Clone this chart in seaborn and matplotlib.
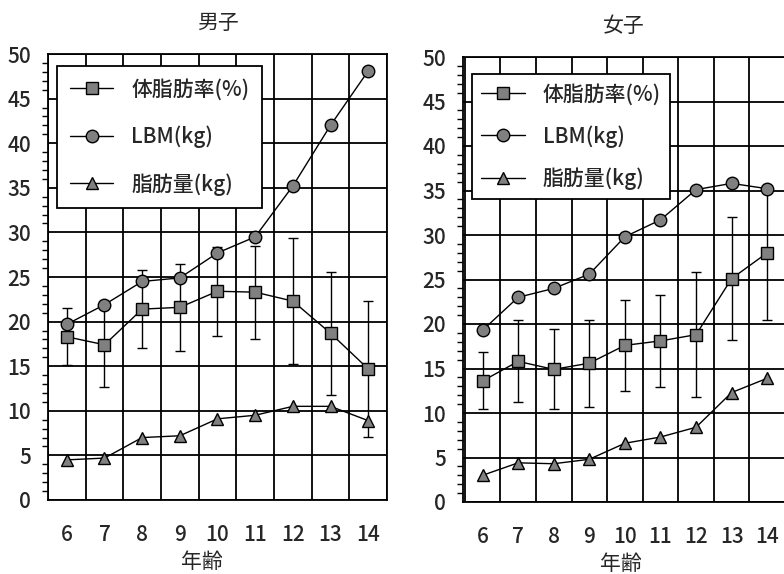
import numpy as np
import pandas as pd
import matplotlib
matplotlib.use("Agg")
import matplotlib.pyplot as plt
import seaborn as sns
from matplotlib.lines import Line2D
from matplotlib.ticker import MultipleLocator

# ---- data -------------------------------------------------------------
ages = [6, 7, 8, 9, 10, 11, 12, 13, 14]
series_names = ["体脂肪率(%)", "LBM(kg)", "脂肪量(kg)"]

boys_pct = [18.3, 17.4, 21.4, 21.6, 23.4, 23.3, 22.3, 18.7, 14.7]
boys_pct_sd = [3.2, 4.7, 4.4, 4.9, 5.0, 5.2, 7.1, 6.9, 7.6]
boys_lbm = [19.7, 21.9, 24.5, 24.9, 27.7, 29.5, 35.2, 42.0, 48.1]
boys_fat = [4.5, 4.7, 7.0, 7.2, 9.1, 9.5, 10.5, 10.5, 8.9]

girls_pct = [13.6, 15.8, 14.9, 15.6, 17.6, 18.1, 18.8, 25.1, 28.0]
girls_pct_sd = [3.2, 4.6, 4.5, 4.9, 5.1, 5.2, 7.0, 6.9, 7.5]
girls_lbm = [19.3, 23.0, 24.0, 25.6, 29.8, 31.7, 35.1, 35.8, 35.2]
girls_fat = [3.0, 4.4, 4.3, 4.8, 6.6, 7.3, 8.4, 12.3, 13.9]


def long_table(pct, lbm, fat):
    rows = []
    for name, vals in zip(series_names, [pct, lbm, fat]):
        for a, v in zip(ages, vals):
            rows.append({"年齢": a, "値": v, "指標": name})
    return pd.DataFrame(rows)


boys = long_table(boys_pct, boys_lbm, boys_fat)
girls = long_table(girls_pct, girls_lbm, girls_fat)

# ---- style ------------------------------------------------------------
sns.set_style("white")
plt.rcParams["font.family"] = ["Noto Sans CJK JP", "DejaVu Sans"]
plt.rcParams["font.weight"] = "medium"

FACE = "#808080"
markers = {"体脂肪率(%)": "s", "LBM(kg)": "o", "脂肪量(kg)": "^"}

fig = plt.figure(figsize=(7.84, 5.74), dpi=100)
ax_b = fig.add_axes([48 / 784, 74 / 574, 339 / 784, 446 / 574])
ax_g = fig.add_axes([463 / 784, 72 / 574, 322 / 784, 445 / 574])


def draw_panel(ax, data, pct, sd, title, xlim_left, label_x,
               leg_anchor, leg_spacing, leg_pad):
    ax.errorbar(ages, pct, yerr=sd, fmt="none", ecolor="black",
                elinewidth=1.0, capsize=3.5, capthick=1.0, zorder=3)
    sns.lineplot(data=data, x="年齢", y="値", style="指標", markers=markers,
                 dashes=False, color="black", lw=1.0, markersize=9,
                 markerfacecolor=FACE, markeredgecolor="black",
                 markeredgewidth=1.0, errorbar=None, legend=False,
                 ax=ax, zorder=4)

    ax.set_xlim(xlim_left, 14.5)
    ax.set_ylim(0, 50)

    # y axis: labelled ticks every 5, small ticks every 1
    ax.set_yticks(range(0, 51, 5))
    ax.yaxis.set_minor_locator(MultipleLocator(1))
    ax.tick_params(axis="y", which="major", direction="out", length=9,
                   width=1.2, color="black", labelsize=15, pad=3)
    ax.tick_params(axis="y", which="minor", direction="out", length=4,
                   width=1.0, color="black", left=True)

    # x axis: boundary ticks between ages, labels centred on ages
    ax.set_xticks(np.arange(5.5, 14.6, 1.0))
    ax.set_xticklabels([])
    ax.set_xticks(ages, minor=True)
    ax.set_xticklabels([str(a) for a in ages], minor=True)
    ax.tick_params(axis="x", which="major", direction="out", length=12,
                   width=1.2, color="black")
    ax.tick_params(axis="x", which="minor", length=0, labelsize=15, pad=17)

    ax.grid(which="major", color="black", lw=1.3)
    ax.set_axisbelow(True)
    for sp in ax.spines.values():
        sp.set_visible(True)
        sp.set_color("black")
        sp.set_linewidth(1.3)

    ax.set_title(title, fontsize=15, pad=18)
    ax.set_ylabel("")
    ax.set_xlabel("年齢", fontsize=15)
    ax.xaxis.set_label_coords(label_x, -0.115)

    handles = [Line2D([], [], color="black", lw=1.0, marker=markers[n],
                      markersize=9, markerfacecolor=FACE,
                      markeredgecolor="black") for n in series_names]
    leg = ax.legend(handles, series_names, loc="upper left",
                    bbox_to_anchor=leg_anchor, borderaxespad=0,
                    frameon=True, fancybox=False, edgecolor="black",
                    framealpha=1, fontsize=15, handlelength=2.1,
                    handletextpad=0.85, labelspacing=leg_spacing,
                    borderpad=leg_pad)
    leg.get_frame().set_linewidth(1.3)


draw_panel(ax_b, boys, boys_pct, boys_pct_sd, "男子", 5.5, 0.454,
           (0.027, 0.973), 1.2, 0.6)
draw_panel(ax_g, girls, girls_pct, girls_pct_sd, "女子", 5.45, 0.49,
           (0.028, 0.962), 0.95, 0.45)

fig.savefig("out.png", dpi=100)
